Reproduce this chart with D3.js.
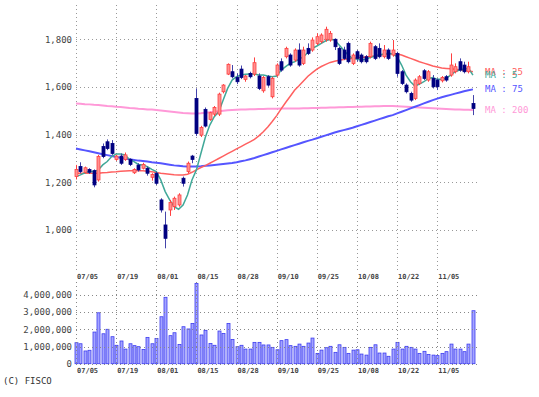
<!DOCTYPE html>
<html>
<head>
<meta charset="utf-8">
<script src="https://cdn.jsdelivr.net/npm/d3@7"></script>
<style>
  body { margin: 0; background: #fff; }
  svg text { font-family: "DejaVu Sans Mono", "Liberation Mono", monospace; }
</style>
</head>
<body>
<div class="content"></div>
<script>
var size = {width: 539, height: 397};
var plotX = [76, 477.4];
var priceY = [270, 5];
var volY = [363.7, 282];

// trading days, 2024-07-05 .. 2024-11-15
var dates = ["07/05","07/08","07/09","07/10","07/11","07/12","07/16","07/17","07/18","07/19",
  "07/22","07/23","07/24","07/25","07/26","07/29","07/30","07/31","08/01","08/02",
  "08/05","08/06","08/07","08/08","08/09","08/13","08/14","08/15","08/16","08/19",
  "08/20","08/21","08/22","08/23","08/26","08/27","08/28","08/29","08/30","09/02",
  "09/03","09/04","09/05","09/06","09/09","09/10","09/11","09/12","09/13","09/17",
  "09/18","09/19","09/20","09/24","09/25","09/26","09/27","09/30","10/01","10/02",
  "10/03","10/04","10/07","10/08","10/09","10/10","10/11","10/15","10/16","10/17",
  "10/18","10/21","10/22","10/23","10/24","10/25","10/28","10/29","10/30","10/31",
  "11/01","11/05","11/06","11/07","11/08","11/11","11/12","11/13","11/14","11/15"];

var open = [1224,1266,1242,1254,1249,1210,1350,1370,1363,1296,1310,1296,1296,1240,1272,1259,1259,1221,1238,1126,
  1021,1084,1098,1105,1217,1245,1310,1552,1398,1506,1464,1486,1486,1580,1654,1664,1640,1675,1632,1657,
  1654,1646,1584,1643,1559,1650,1706,1727,1734,1713,1755,1699,1762,1755,1783,1790,1800,1797,1800,1762,
  1755,1783,1699,1748,1734,1727,1727,1769,1762,1727,1755,1734,1741,1664,1608,1573,1552,1615,1668,1629,
  1636,1629,1626,1643,1650,1664,1706,1692,1664,1531];
var high = [1273,1284,1266,1259,1254,1315,1363,1380,1377,1315,1321,1325,1301,1259,1280,1282,1266,1238,1245,1133,
  1077,1126,1140,1154,1224,1287,1315,1594,1437,1514,1496,1520,1576,1612,1699,1692,1657,1690,1650,1664,
  1724,1657,1646,1650,1643,1699,1720,1769,1741,1762,1783,1769,1783,1808,1825,1825,1853,1835,1804,1769,
  1769,1790,1741,1755,1741,1734,1790,1776,1783,1776,1762,1797,1748,1671,1615,1580,1636,1650,1675,1671,
  1650,1636,1646,1650,1741,1699,1720,1706,1706,1566];
var low = [1212,1238,1238,1235,1179,1203,1301,1335,1315,1290,1273,1290,1268,1235,1245,1254,1228,1207,1189,1073,
  923,1059,1084,1098,1182,1238,1280,1394,1390,1430,1458,1478,1478,1573,1650,1636,1612,1633,1622,1636,
  1646,1587,1576,1601,1552,1643,1664,1720,1685,1706,1685,1692,1734,1748,1776,1783,1790,1790,1755,1692,
  1713,1699,1692,1706,1699,1699,1720,1713,1720,1720,1713,1727,1643,1608,1573,1538,1545,1608,1629,1622,
  1594,1587,1619,1622,1643,1657,1664,1657,1657,1482];
var close = [1254,1245,1261,1242,1189,1308,1308,1342,1321,1310,1280,1315,1275,1254,1252,1275,1238,1233,1196,1084,
  965,1115,1133,1147,1196,1280,1296,1405,1430,1436,1492,1514,1570,1608,1695,1643,1622,1640,1646,1643,
  1702,1594,1640,1608,1636,1692,1671,1762,1692,1755,1692,1755,1741,1797,1811,1818,1842,1825,1769,1699,
  1720,1706,1734,1720,1706,1706,1783,1720,1727,1755,1720,1755,1657,1615,1580,1545,1629,1643,1636,1664,
  1601,1601,1640,1629,1692,1685,1671,1664,1685,1510];

var volume = [1.22,1.16,0.74,0.78,1.84,2.96,1.74,2.00,1.57,1.07,1.32,0.85,1.16,1.05,0.99,0.83,1.53,1.16,1.47,2.73,
  3.86,1.63,1.80,1.12,2.15,2.02,2.34,4.67,1.67,1.94,1.18,1.07,1.90,1.76,2.34,1.41,0.99,1.07,0.85,0.85,
  1.24,1.24,1.09,1.09,0.95,0.81,1.34,1.40,1.05,1.01,1.14,1.01,1.20,1.49,0.60,0.79,0.93,1.01,0.66,1.10,
  0.95,0.60,0.79,0.81,0.56,0.50,0.95,1.10,0.62,0.62,0.43,0.85,1.24,0.85,1.01,0.95,0.85,0.60,0.72,0.54,
  0.50,0.47,0.60,0.70,1.14,0.85,0.85,0.70,1.14,3.08].map(function(v) { return v * 1e6; });

var ma5 = [1224,1231,1240,1245,1245,1252,1273,1287,1308,1319,1319,1315,1296,1287,1275,1273,1266,1254,1245,1210,
  1161,1126,1098,1087,1105,1147,1210,1252,1321,1389,1440,1475,1496,1545,1594,1629,1643,1650,1653,1654,
  1654,1650,1650,1646,1643,1646,1671,1685,1699,1706,1716,1727,1745,1762,1772,1783,1794,1800,1797,1776,
  1755,1734,1720,1716,1713,1716,1724,1730,1734,1738,1741,1738,1727,1692,1650,1622,1604,1612,1622,1636,
  1640,1632,1632,1636,1650,1664,1671,1675,1678,1650];
var ma25 = [1238,1238,1238,1238,1238,1238,1240,1241,1243,1244,1246,1247,1248,1249,1249,1248,1246,1244,1241,1238,
  1236,1234,1232,1231,1231,1234,1242,1252,1262,1270,1280,1290,1300,1310,1320,1330,1340,1350,1360,1370,
  1380,1395,1412,1432,1455,1480,1508,1535,1560,1586,1605,1625,1645,1660,1675,1686,1695,1703,1708,1712,
  1715,1718,1720,1722,1724,1726,1728,1730,1733,1736,1738,1740,1738,1734,1727,1720,1713,1706,1700,1694,
  1688,1684,1680,1678,1676,1674,1672,1670,1668,1664];
var ma75 = [1342,1338,1334,1330,1326,1322,1318,1314,1310,1306,1303,1300,1297,1294,1291,1289,1287,1284,1282,1280,
  1277,1274,1271,1269,1267,1266,1266,1266,1267,1269,1271,1273,1275,1277,1279,1281,1284,1288,1292,1297,
  1302,1308,1314,1320,1326,1332,1338,1344,1350,1356,1362,1368,1374,1379,1385,1391,1397,1403,1409,1414,
  1419,1424,1429,1435,1441,1447,1453,1459,1465,1471,1477,1482,1489,1496,1503,1510,1517,1524,1531,1538,
  1545,1551,1557,1562,1567,1572,1577,1582,1586,1590];
var ma200 = [1531,1530,1528,1527,1525,1524,1522,1520,1519,1517,1516,1514,1512,1511,1509,1508,1506,1505,1503,1501,
  1499,1497,1495,1493,1491,1490,1489,1489,1490,1492,1494,1496,1498,1500,1502,1503,1504,1505,1506,1507,
  1507,1508,1508,1509,1509,1509,1510,1510,1510,1510,1510,1511,1511,1512,1512,1513,1513,1514,1514,1515,
  1515,1516,1516,1517,1517,1518,1518,1519,1519,1520,1520,1520,1519,1518,1517,1516,1515,1514,1513,1512,
  1511,1510,1509,1508,1507,1506,1505,1504,1504,1503];

var priceTicks = [1000, 1200, 1400, 1600, 1800];
var volTicks = [0, 1000000, 2000000, 3000000, 4000000];
var maNames = ["MA : 200", "MA : 75", "MA : 25", "MA : 5"];
var maColors = ["#ff99d8", "#5555ff", "#ff6060", "#40a898"];
var maWidths = [2, 2, 1.5, 1.5];
var maSeries = [ma200, ma75, ma25, ma5];

var days = d3.range(dates.length);
var tickIdx = days.filter(function(i) { return i % 9 === 0; });

var chart = d3.select('.content')
    .append('svg')
    .attr('width', size.width)
    .attr('height', size.height);
chart.append('rect').attr('width', size.width).attr('height', size.height).attr('fill', '#fff');

var xScale = d3.scaleLinear().domain([0, 90]).range(plotX);
var yScale = d3.scaleLinear().domain([832, 1944]).range(priceY);
var vScale = d3.scaleLinear().domain([0, 4.75e6]).range(volY);

function px(v) { return Math.round(v) + 0.5; }

// grid lines, both panels
function grid(g, scale, ticks, yRange) {
    g.selectAll('line.vg').data(tickIdx).enter().append('line')
        .attr('x1', function(d) { return px(xScale(d)); })
        .attr('x2', function(d) { return px(xScale(d)); })
        .attr('y1', yRange[1]).attr('y2', yRange[0]);
    g.selectAll('line.hg').data(ticks).enter().append('line')
        .attr('x1', plotX[0]).attr('x2', plotX[1])
        .attr('y1', function(d) { return px(scale(d)); })
        .attr('y2', function(d) { return px(scale(d)); });
}
var gridG = chart.append('g').attr('stroke', '#999').attr('stroke-width', 1).attr('stroke-dasharray', '1,3');
grid(gridG, yScale, priceTicks, priceY);

// y axes
var yAxis = d3.axisLeft(yScale).tickValues(priceTicks).tickSize(0).tickPadding(0).tickFormat(d3.format(','));
var yAxisObj = chart.append('g').attr('transform', 'translate(72,0)').call(yAxis);
var vAxis = d3.axisLeft(vScale).tickValues(volTicks).tickSize(0).tickPadding(0).tickFormat(d3.format(','));
var vAxisObj = chart.append('g').attr('transform', 'translate(72,0)').call(vAxis);
[yAxisObj, vAxisObj].forEach(function(a) {
    a.select('.domain').remove();
    a.selectAll('text').attr('fill', '#444').style('font-size', '9px')
        .style('font-family', '"DejaVu Sans Mono", monospace');
});

// date labels under both panels
[276, 370].forEach(function(yy) {
    chart.append('g').selectAll('text').data(tickIdx).enter().append('text')
        .attr('x', function(d) { return xScale(d) + 1; })
        .attr('y', yy + 3)
        .attr('fill', '#444')
        .style('font-size', '7px')
        .style('font-weight', 'bold')
        .text(function(d) { return dates[d]; });
});

// moving averages
var line = d3.line()
    .x(function(d, i) { return xScale(i); })
    .y(function(d) { return yScale(d); });
chart.append('g').selectAll('path').data(maSeries).enter().append('path')
    .attr('d', line)
    .attr('fill', 'none')
    .attr('stroke', function(d, i) { return maColors[i]; })
    .attr('stroke-width', function(d, i) { return maWidths[i]; });

// candles
var candles = chart.append('g').selectAll('g').data(days).enter().append('g');
candles.append('line')
    .attr('x1', function(i) { return px(xScale(i)); })
    .attr('x2', function(i) { return px(xScale(i)); })
    .attr('y1', function(i) { return yScale(high[i]); })
    .attr('y2', function(i) { return yScale(low[i]); })
    .attr('stroke', function(i) { return close[i] >= open[i] ? '#ff4040' : '#4444aa'; })
    .attr('stroke-width', 1);
candles.append('rect')
    .attr('x', function(i) { return Math.round(xScale(i)) - 1; })
    .attr('width', 3)
    .attr('y', function(i) { return yScale(Math.max(open[i], close[i])); })
    .attr('height', function(i) { return Math.max(1, yScale(Math.min(open[i], close[i])) - yScale(Math.max(open[i], close[i]))); })
    .attr('fill', function(i) { return close[i] >= open[i] ? '#ff9090' : '#000080'; })
    .attr('stroke', function(i) { return close[i] >= open[i] ? '#ff4040' : '#000080'; })
    .attr('stroke-width', 0.8);

// volume bars, grid dots drawn over them
chart.append('g').selectAll('rect').data(days).enter().append('rect')
    .attr('x', function(i) { return Math.round(xScale(i)) - 1; })
    .attr('width', 3)
    .attr('y', function(i) { return vScale(volume[i]); })
    .attr('height', function(i) { return vScale(0) - vScale(volume[i]); })
    .attr('fill', '#a4a4ff')
    .attr('stroke', '#3c3cf0')
    .attr('stroke-width', 0.8);
var vGridG = chart.append('g').attr('stroke', '#888').attr('stroke-width', 1).attr('stroke-dasharray', '1,3');
grid(vGridG, vScale, volTicks, volY);

// MA legend, placed at the last value of each line
chart.append('g').selectAll('text').data(maSeries).enter().append('text')
    .attr('x', 485)
    .attr('y', function(d) { return yScale(d[d.length - 1]) + 3; })
    .attr('fill', function(d, i) { return maColors[i]; })
    .style('font-size', '9px')
    .text(function(d, i) { return maNames[i]; });

chart.append('text').attr('x', 3).attr('y', 384).attr('fill', '#333')
    .style('font-size', '9px').text('(C) FISCO');
</script>
</body>
</html>
